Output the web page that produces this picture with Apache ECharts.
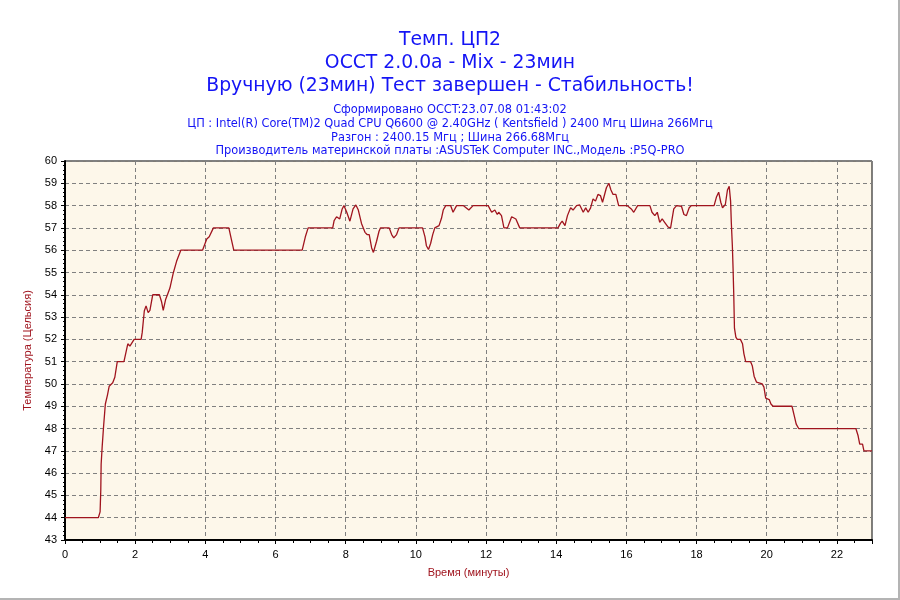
<!DOCTYPE html>
<html>
<head>
<meta charset="utf-8">
<title>Темп. ЦП2</title>
<script src="https://cdn.jsdelivr.net/npm/echarts@6/dist/echarts.min.js"></script>
<style>
  html, body { margin: 0; padding: 0; background: #fff; }
  #chart { width: 900px; height: 600px; }
</style>
</head>
<body>
<div id="chart"></div>
<script>
// time in minutes
var times = [
  0, 0.95, 1.00, 1.02, 1.03, 1.06, 1.10, 1.15, 1.21, 1.26,
  1.36, 1.42, 1.49, 1.68, 1.79, 1.85, 1.97, 2.17, 2.20, 2.26,
  2.31, 2.37, 2.42, 2.50, 2.69, 2.75, 2.80, 2.87, 2.93, 2.99,
  3.09, 3.18, 3.30, 3.92, 4.04, 4.11, 4.23, 4.67, 4.74, 4.81,
  6.76, 6.85, 6.93, 7.63, 7.67, 7.74, 7.83, 7.90, 7.95, 8.03,
  8.12, 8.21, 8.29, 8.36, 8.45, 8.55, 8.61, 8.67, 8.74, 8.79,
  8.88, 8.95, 8.99, 9.24, 9.31, 9.37, 9.45, 9.52, 10.19, 10.26,
  10.30, 10.36, 10.42, 10.48, 10.54, 10.66, 10.73, 10.78, 10.85, 10.99,
  11.06, 11.16, 11.35, 11.51, 11.63, 12.06, 12.16, 12.25, 12.32, 12.36,
  12.44, 12.51, 12.61, 12.73, 12.85, 12.96, 14.05, 14.12, 14.17, 14.25,
  14.32, 14.41, 14.48, 14.58, 14.67, 14.77, 14.84, 14.91, 14.98, 15.05,
  15.12, 15.19, 15.26, 15.32, 15.36, 15.43, 15.50, 15.56, 15.62, 15.70,
  15.78, 16.02, 16.14, 16.21, 16.32, 16.67, 16.73, 16.81, 16.88, 16.95,
  17.02, 17.09, 17.19, 17.26, 17.35, 17.43, 17.57, 17.64, 17.71, 17.79,
  17.85, 18.50, 18.57, 18.63, 18.69, 18.74, 18.82, 18.88, 18.93, 18.97,
  18.99, 19.02, 19.04, 19.06, 19.08, 19.12, 19.16, 19.25, 19.31, 19.35,
  19.40, 19.54, 19.59, 19.64, 19.71, 19.75, 19.87, 19.92, 19.97, 20.07,
  20.12, 20.18, 20.72, 20.78, 20.84, 20.91, 22.54, 22.60, 22.65, 22.73,
  22.77, 23.0
];

// CPU2 temperature, Celsius
var temps = [
  44, 44, 44.26, 45.24, 46.4, 47.2, 48.1, 49.1, 49.5, 49.9,
  50.05, 50.3, 51, 51, 51.8, 51.7, 52, 52, 52.3, 53.27,
  53.5, 53.2, 53.3, 54, 54, 53.7, 53.3, 53.8, 54.05, 54.3,
  55, 55.5, 56, 56, 56.5, 56.6, 57, 57, 56.5, 56,
  56, 56.6, 57, 57, 57.33, 57.5, 57.4, 57.85, 58, 57.7,
  57.3, 57.85, 58.03, 57.8, 57.2, 56.8, 56.7, 56.7, 56.1, 55.9,
  56.4, 56.85, 57, 57, 56.7, 56.55, 56.7, 57, 57, 56.6,
  56.2, 56.03, 56.3, 56.7, 57, 57.1, 57.43, 57.8, 58, 58,
  57.7, 58, 58, 57.8, 58, 58, 57.7, 57.8, 57.6, 57.7,
  57.55, 57, 57, 57.5, 57.4, 57, 57, 57.2, 57.3, 57.1,
  57.55, 57.9, 57.8, 58, 58.03, 57.7, 57.9, 57.7, 57.9, 58.3,
  58.2, 58.5, 58.45, 58.15, 58.2, 58.8, 59, 58.7, 58.5, 58.5,
  58, 58, 57.85, 57.7, 58, 58, 57.7, 57.55, 57.7, 57.25,
  57.4, 57.25, 57.03, 57, 57.85, 58, 57.97, 57.6, 57.55, 57.9,
  58, 58, 58.4, 58.6, 58.15, 57.9, 58.05, 58.7, 58.87, 58.2,
  57.25, 56.2, 55.2, 54.0, 52.5, 52.1, 52, 52, 51.8, 51.35,
  51, 51, 50.8, 50.35, 50.08, 50, 50, 49.86, 49.36, 49.3,
  49.1, 49, 49, 48.6, 48.2, 48, 48, 47.7, 47.3, 47.3,
  47, 47
];

var titleLines = [
  'Темп. ЦП2',
  'OCCT 2.0.0a - Mix - 23мин',
  'Вручную (23мин) Тест завершен - Стабильность!'
];
var infoLines = [
  'Сформировано OCCT:23.07.08 01:43:02',
  'ЦП : Intel(R) Core(TM)2 Quad CPU Q6600 @ 2.40GHz ( Kentsfield ) 2400 Мгц Шина 266Мгц',
  'Разгон : 2400.15 Мгц ; Шина 266.68Мгц',
  'Производитель материнской платы :ASUSTeK Computer INC.,Модель :P5Q-PRO'
];

var blue = '#1414f5';
var darkRed = '#a0141e';

var points = times.map(function (t, i) { return [t, temps[i]]; });

// one title component per text line
var titles = [];
var titleTops = [31, 54, 77];
titleLines.forEach(function (txt, i) {
  titles.push({
    text: txt, left: 'center', top: titleTops[i], padding: 0,
    textStyle: { color: blue, fontSize: 18.8, fontWeight: 'normal', fontFamily: 'DejaVu Sans' }
  });
});
var infoTops = [104.5, 119, 133, 146];
infoLines.forEach(function (txt, i) {
  titles.push({
    text: txt, left: 'center', top: infoTops[i], padding: 0,
    textStyle: { color: blue, fontSize: 11.4, fontWeight: 'normal', fontFamily: 'DejaVu Sans' }
  });
});

var myChart = echarts.init(document.getElementById('chart'), null, { renderer: 'canvas' });

var option = {
  backgroundColor: '#ffffff',
  animation: false,
  title: titles,
  grid: {
    left: 65, right: 28, top: 161, bottom: 60,
    show: true,
    backgroundColor: '#fdf7ea',
    borderColor: '#000000',
    borderWidth: 1
  },
  xAxis: {
    type: 'value',
    min: 0, max: 23, interval: 2,
    name: 'Время (минуты)',
    nameLocation: 'middle',
    nameGap: 27,
    nameTextStyle: { color: darkRed, fontSize: 11, fontFamily: 'Liberation Sans' },
    axisLine: { lineStyle: { color: '#000', width: 2 } },
    axisTick: { show: true, length: 4, lineStyle: { color: '#000' } },
    minorTick: { show: true, splitNumber: 4, length: 3, lineStyle: { color: '#000' } },
    axisLabel: { color: '#000', fontSize: 11, fontFamily: 'Liberation Sans', margin: 9, showMaxLabel: false },
    splitLine: { show: true, lineStyle: { color: '#808080', type: [4, 3], width: 1 } }
  },
  yAxis: {
    type: 'value',
    min: 43, max: 60, interval: 1,
    name: 'Температура (Цельсия)',
    nameLocation: 'middle',
    nameGap: 30,
    nameTextStyle: { color: darkRed, fontSize: 11, fontFamily: 'Liberation Sans' },
    axisLine: { show: true, lineStyle: { color: '#000', width: 2 } },
    axisTick: { show: true, length: 4, lineStyle: { color: '#000' } },
    minorTick: { show: true, splitNumber: 5, length: 2, lineStyle: { color: '#000' } },
    axisLabel: { color: '#000', fontSize: 11, fontFamily: 'Liberation Sans', margin: 8 },
    splitLine: { show: true, lineStyle: { color: '#808080', type: [4, 3], width: 1 } }
  },
  // thin gray frame on the right and bottom edges of the picture
  graphic: [
    { type: 'line', shape: { x1: 899, y1: 0, x2: 899, y2: 600 }, style: { stroke: '#b4b4b4', lineWidth: 2 } },
    { type: 'line', shape: { x1: 0, y1: 599, x2: 900, y2: 599 }, style: { stroke: '#b4b4b4', lineWidth: 2 } }
  ],
  series: [
    {
      name: 'Темп. ЦП2',
      type: 'line',
      data: points,
      showSymbol: false,
      lineStyle: { color: darkRed, width: 1.3 },
      itemStyle: { color: darkRed }
    }
  ]
};

myChart.setOption(option);
</script>
</body>
</html>
